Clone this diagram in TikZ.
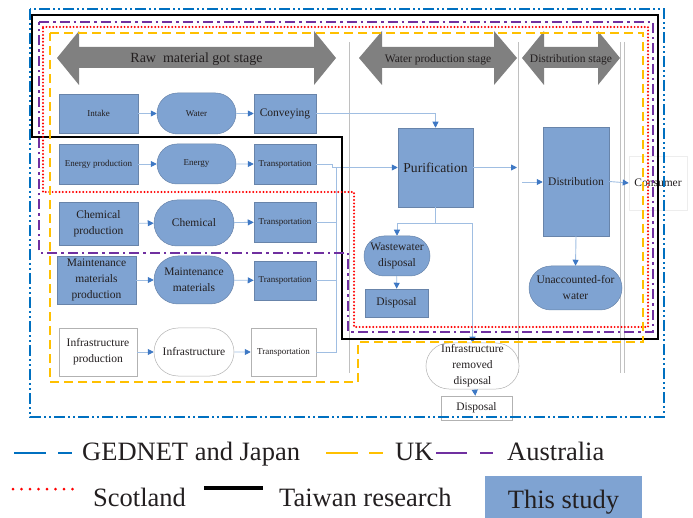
\documentclass[tikz,border=0pt]{standalone}
\usepackage{fontspec}
\setmainfont{Liberation Serif}
\usepackage{tikz}
\usetikzlibrary{positioning}
\usetikzlibrary{arrows.meta}
\usetikzlibrary{shapes.misc}

\definecolor{boxblue}{RGB}{127,163,210}
\definecolor{boxedge}{RGB}{104,132,170}
\definecolor{linkblue}{RGB}{160,190,226}
\definecolor{tipblue}{RGB}{62,120,196}
\definecolor{stagegray}{RGB}{128,128,128}
\definecolor{sepgray}{RGB}{192,192,192}
\definecolor{gednetblue}{RGB}{0,112,192}
\definecolor{ukyellow}{RGB}{255,192,0}
\definecolor{auspurple}{RGB}{112,48,160}
\definecolor{textdark}{RGB}{35,31,32}

\newcommand{\smallfont}{\fontsize{9}{11}\selectfont}
\newcommand{\midfont}{\fontsize{11.5}{16}\selectfont}
\newcommand{\legendfont}{\fontsize{26.5}{30}\selectfont}

% big grey double arrow: left tip, right tip, head length
\newcommand{\stagearrow}[3]{%
  \fill[stagegray] (#1,58) -- (#1+#3,31) -- (#1+#3,47) -- (#2-#3,47) -- (#2-#3,31)
    -- (#2,58) -- (#2-#3,85) -- (#2-#3,68) -- (#1+#3,68) -- (#1+#3,85) -- cycle;}

\tikzset{proc/.style = {rectangle, fill=boxblue, draw=boxedge, line width=0.5pt,
                        inner sep=1pt, align=center, text=textdark, font=\smallfont}}
\tikzset{good/.style = {rounded rectangle, fill=boxblue, draw=boxedge, line width=0.5pt,
                        inner sep=1pt, align=center, text=textdark, font=\smallfont}}
\tikzset{plainproc/.style = {proc, fill=white, draw=gray!60}}
\tikzset{plaingood/.style = {good, fill=white, draw=gray!60}}
\tikzset{link/.style = {draw=linkblue, line width=0.9pt}}
\tikzset{flow/.style = {link, -{Triangle[length=6pt,width=6pt,color=tipblue]}}}
\tikzset{stagesep/.style = {draw=sepgray, double, double distance=3pt, line width=0.8pt}}
\tikzset{gednet/.style = {draw=gednetblue, line width=2.4pt,
                          dash pattern=on 11pt off 3pt on 2pt off 3pt on 2pt off 3pt}}
\tikzset{uk/.style = {draw=ukyellow, line width=2.8pt, dash pattern=on 9pt off 5pt}}
\tikzset{australia/.style = {draw=auspurple, line width=2.8pt,
                             dash pattern=on 10pt off 4pt on 2.5pt off 4pt}}
\tikzset{scotland/.style = {draw=red, line width=2.2pt, line cap=round,
                            dash pattern=on 0pt off 3.4pt}}
\tikzset{taiwan/.style = {draw=black, line width=2.8pt}}

\begin{document}
\begin{tikzpicture}[x=1pt,y=-1pt]
    \useasboundingbox (0,0) rectangle (693,518);

    % stage separators
    \draw[stagesep] (351,42) -- (351,373);
    \draw[stagesep] (520,42) -- (520,373);
    \draw[stagesep] (622.5,42) -- (622.5,373);

    % stage arrows
    \stagearrow{57}{336}{22}
    \stagearrow{359}{517}{23}
    \stagearrow{522}{620}{22}
    \node [text=textdark, font=\fontsize{14}{16}\selectfont] (rawstage) at (196.5,59.5) {Raw\ \ material got stage};
    \node [text=textdark, font=\fontsize{11.5}{14}\selectfont] (waterstage) at (438,59.5) {Water production stage};
    \node [text=textdark, font=\fontsize{11.5}{14}\selectfont] (diststage) at (571,59.5) {Distribution stage};

    % raw material rows
    \node [proc, minimum width=79pt, minimum height=39pt] (intake) at (98.5,113.5) {Intake};
    \node [good, minimum width=81pt, minimum height=41pt] (water) at (196.5,113.5) {Water};
    \node [proc, minimum width=62pt, minimum height=39pt, font=\midfont] (conveying) at (285,113.5) {Conveying};

    \node [proc, minimum width=79pt, minimum height=40pt] (energyprod) at (98.5,164) {Energy production};
    \node [good, minimum width=81pt, minimum height=40pt] (energy) at (196.5,164) {Energy};
    \node [proc, minimum width=62pt, minimum height=40pt] (transport2) at (285,164) {Transportation};

    \node [proc, minimum width=79pt, minimum height=43pt, font=\midfont] (chemprod) at (98.5,223.5) {Chemical\\production};
    \node [good, minimum width=82pt, minimum height=46pt, font=\midfont] (chemical) at (194,223) {Chemical};
    \node [proc, minimum width=62pt, minimum height=40pt] (transport3) at (285,222) {Transportation};

    \node [proc, minimum width=79pt, minimum height=48pt, font=\midfont] (maintprod) at (96.5,280) {Maintenance\\materials\\production};
    \node [good, minimum width=82pt, minimum height=48pt, font=\midfont] (maintenance) at (194,280) {Maintenance\\materials};
    \node [proc, minimum width=62pt, minimum height=39pt] (transport4) at (285,280.5) {Transportation};

    \node [plainproc, minimum width=78pt, minimum height=48pt, font=\midfont] (infraprod) at (98,352) {Infrastructure\\production};
    \node [plaingood, minimum width=82pt, minimum height=48pt, font=\midfont] (infrastructure) at (194,352) {Infrastructure};
    \node [plainproc, minimum width=65pt, minimum height=48pt] (transport5) at (283.5,352) {Transportation};

    % water production stage
    \node [proc, minimum width=75pt, minimum height=79pt, font=\fontsize{13.6}{16}\selectfont] (purification) at (435.5,167.5) {Purification};
    \node [good, minimum width=68pt, minimum height=40pt, font=\midfont] (wastewater) at (397,256) {Wastewater\\disposal};
    \node [proc, minimum width=63pt, minimum height=28pt, font=\midfont] (disposal) at (396.5,303) {Disposal};
    \node [plaingood, minimum width=85pt, minimum height=46pt, font=\midfont] (inframoved) at (472.5,366) {Infrastructure\\removed\\disposal};
    \node [plainproc, minimum width=71pt, minimum height=24pt, font=\midfont] (removeddisposal) at (476.5,408) {Disposal};

    % distribution stage
    \node [proc, minimum width=66pt, minimum height=109pt, font=\midfont] (distribution) at (576,181.5) {Distribution};
    \node [good, minimum width=95pt, minimum height=44pt, font=\midfont] (unaccounted) at (575.5,288) {Unaccounted-for\\water};
    \node [plainproc, draw=black!7, minimum width=58pt, minimum height=54pt, font=\midfont] (consumer) at (658,183) {Consumer};

    % connectors
    \coordinate (bustop) at (336,167.5);
    \coordinate (split) at (435.5,223);
    \coordinate (waterend) at (517,167.5);
    \coordinate (diststart) at (522,182);

    \draw[flow] (intake) -- (water);
    \draw[flow] (water) -- (conveying);
    \draw[flow] (conveying.east) -| (purification.north);
    \draw[flow] (energyprod) -- (energy);
    \draw[flow] (energy) -- (transport2);
    \draw[flow] (transport2.east) -- ++(16,0) |- (purification.west);
    \draw[flow] (chemprod) -- (chemical);
    \draw[flow] (chemical) -- (transport3);
    \draw[flow] (maintprod) -- (maintenance);
    \draw[flow] (maintenance) -- (transport4);
    \draw[flow] (infraprod) -- (infrastructure);
    \draw[flow] (infrastructure) -- (transport5);
    \draw[link] (transport5.east) -| (bustop);
    \draw[link] (transport3.east) -- (transport3.east -| bustop);
    \draw[link] (transport4.east) -- (transport4.east -| bustop);

    \draw[flow] (purification.east) -- (waterend);
    \draw[link] (purification.south) -- (split);
    \draw[flow] (split) -| (wastewater.north);
    \draw[flow] (split) -| (inframoved.north);
    \draw[flow] (wastewater) -- (disposal);
    \draw[flow] (inframoved) -- (removeddisposal);

    \draw[flow] (diststart) -- (distribution.west |- diststart);
    \draw[flow] (distribution.east) -- (consumer.west);
    \draw[flow] (distribution.south) -- (unaccounted.north);

    % study boundaries
    \draw[gednet] (30,9) rectangle (664,417);
    \draw[taiwan] (32,15) -- (658,15) -- (658,339) -- (342,339) -- (342,137) -- (32,137) -- cycle;
    \draw[australia] (39,22) -- (653,22) -- (653,332) -- (348,332) -- (348,253) -- (39,253) -- cycle;
    \draw[scotland] (43,27) -- (648,27) -- (648,327) -- (354,327) -- (354,192) -- (43,192) -- cycle;
    \draw[uk] (50,33) -- (643,33) -- (643,342) -- (358,342) -- (358,382) -- (50,382) -- cycle;

    % legend
    \draw[gednetblue, line width=2.8pt, dash pattern=on 32pt off 12pt on 14pt off 99pt] (14,453) -- (72,453);
    \node [anchor=base west, inner sep=0, text=textdark, font=\legendfont] (gednetkey) at (82,460) {GEDNET and Japan};
    \draw[ukyellow, line width=2.8pt, dash pattern=on 32pt off 11pt on 14pt off 99pt] (326,453) -- (383,453);
    \node [anchor=base west, inner sep=0, text=textdark, font=\legendfont] (ukkey) at (395,460) {UK};
    \draw[auspurple, line width=2.8pt, dash pattern=on 31pt off 13pt on 13pt off 99pt] (436,453) -- (493,453);
    \node [anchor=base west, inner sep=0, text=textdark, font=\legendfont] (australiakey) at (507,460) {Australia};
    \draw[red, line width=3pt, line cap=round, dash pattern=on 0pt off 8.5pt] (13,489) -- (73,489);
    \node [anchor=base west, inner sep=0, text=textdark, font=\legendfont] (scotlandkey) at (93,506) {Scotland};
    \draw[black, line width=3.8pt] (204,488) -- (263,488);
    \node [anchor=base west, inner sep=0, text=textdark, font=\legendfont] (taiwankey) at (279,506) {Taiwan research};
    \node [fill=boxblue, minimum width=157pt, minimum height=52pt, inner sep=0, text=textdark, font=\legendfont] (studykey) at (563.5,502) {This study};
\end{tikzpicture}
\end{document}
